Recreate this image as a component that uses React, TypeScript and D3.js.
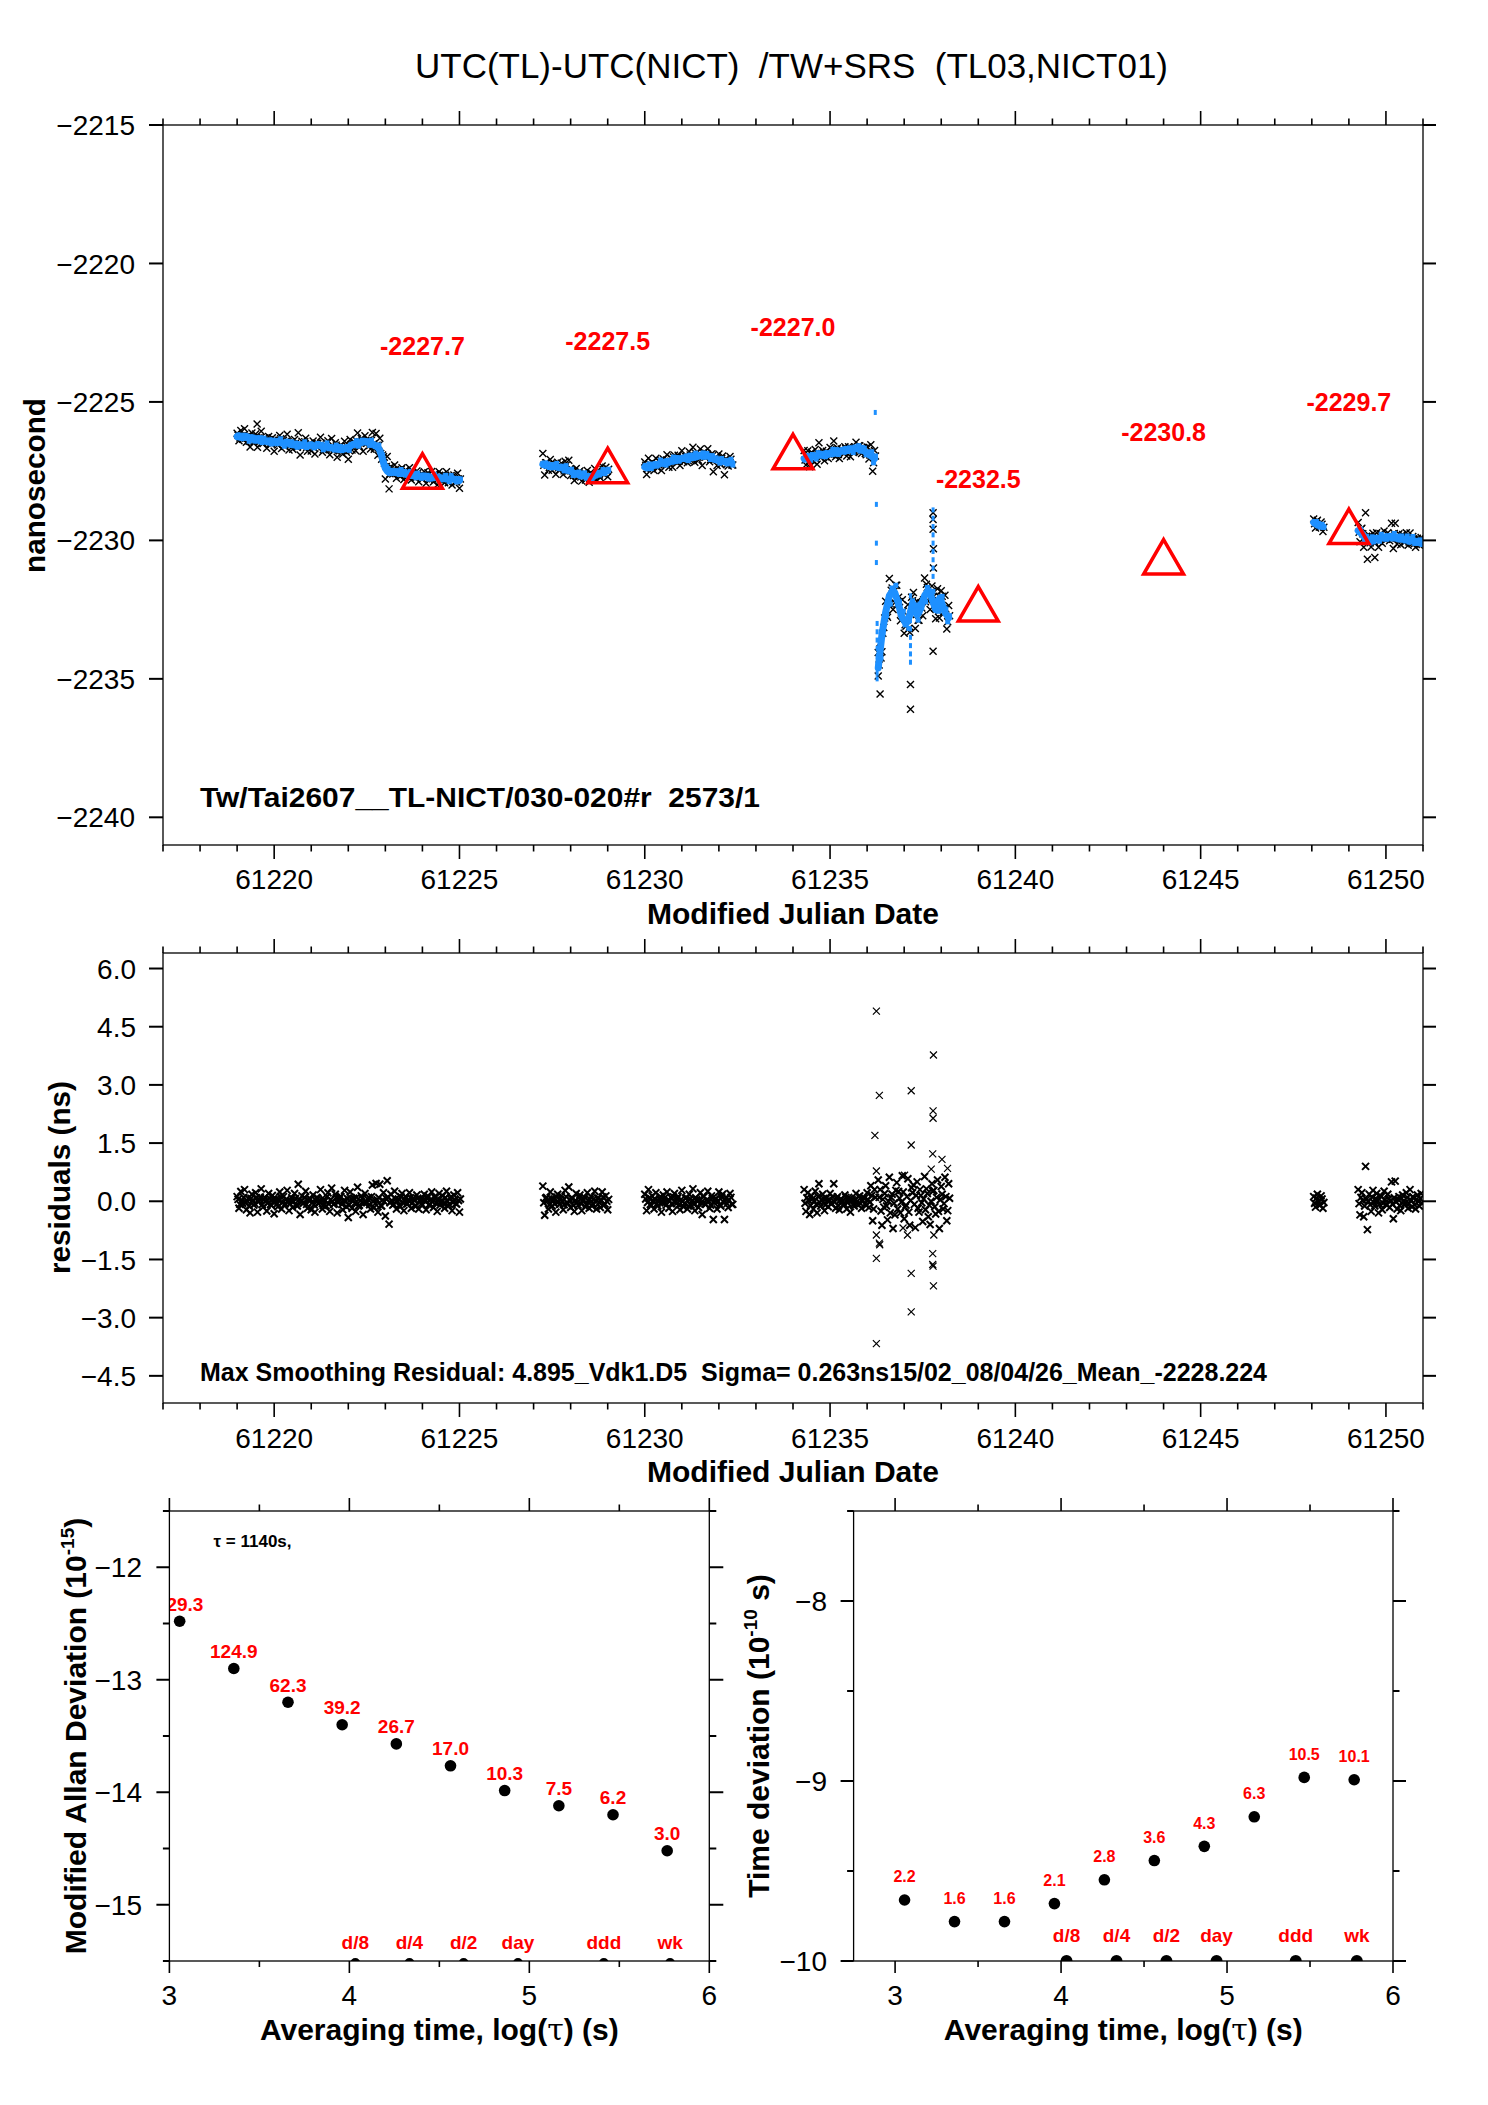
import React from 'react';
import * as d3 from 'd3';

const FONT = "'Liberation Sans', Arial, Helvetica, sans-serif";

// ---------------- data ----------------
const TITLE = 'UTC(TL)-UTC(NICT)  /TW+SRS  (TL03,NICT01)';
const TOP_NOTE = 'Tw/Tai2607__TL-NICT/030-020#r  2573/1';
const MID_NOTE = 'Max Smoothing Residual: 4.895_Vdk1.D5  Sigma= 0.263ns15/02_08/04/26_Mean_-2228.224';

const MJD_STEP = 0.05;
const SEG_START = [61219.0, 61227.25, 61230.0, 61234.3, 61236.3, 61248.05, 61249.25];

const SMOOTH_A = [
  -2226.25, -2226.22, -2226.28, -2226.30, -2226.27, -2226.24, -2226.30, -2226.33, -2226.30, -2226.35, -2226.38,
  -2226.36, -2226.40, -2226.38, -2226.35, -2226.40, -2226.42, -2226.45, -2226.41, -2226.44, -2226.46,
  -2226.44, -2226.42, -2226.45, -2226.48, -2226.50, -2226.47, -2226.45, -2226.50, -2226.53, -2226.55,
  -2226.56, -2226.52, -2226.55, -2226.58, -2226.56, -2226.54, -2226.57, -2226.60, -2226.58, -2226.55,
  -2226.57, -2226.60, -2226.58, -2226.55, -2226.58, -2226.62, -2226.64, -2226.60, -2226.62, -2226.65,
  -2226.66, -2226.68, -2226.65, -2226.70, -2226.72, -2226.68, -2226.66, -2226.70, -2226.68, -2226.65,
  -2226.60, -2226.56, -2226.52, -2226.50, -2226.48, -2226.50, -2226.46, -2226.44, -2226.42, -2226.45,
  -2226.48, -2226.50, -2226.52, -2226.55, -2226.60, -2226.65, -2226.75, -2226.95, -2227.20, -2227.40,
  -2227.50, -2227.55, -2227.52, -2227.50, -2227.54, -2227.56, -2227.52, -2227.55, -2227.58, -2227.56,
  -2227.58, -2227.62, -2227.60, -2227.64, -2227.66, -2227.62, -2227.65, -2227.68, -2227.70, -2227.68,
  -2227.70, -2227.72, -2227.70, -2227.73, -2227.75, -2227.72, -2227.70, -2227.74, -2227.72, -2227.75,
  -2227.76, -2227.74, -2227.78, -2227.80, -2227.78, -2227.76, -2227.80, -2227.82, -2227.80, -2227.84,
];
const SMOOTH_B = [
  -2227.25, -2227.28, -2227.30, -2227.27, -2227.32, -2227.35, -2227.30, -2227.33, -2227.36, -2227.38,
  -2227.35, -2227.40, -2227.42, -2227.45, -2227.48, -2227.50, -2227.55, -2227.58, -2227.60, -2227.62,
  -2227.65, -2227.62, -2227.66, -2227.68, -2227.70, -2227.72, -2227.68, -2227.70, -2227.66, -2227.62,
  -2227.60, -2227.58, -2227.55, -2227.52, -2227.50, -2227.48,
];
const SMOOTH_C = [
  -2227.35, -2227.38, -2227.33, -2227.30, -2227.32, -2227.28, -2227.25, -2227.27, -2227.22, -2227.20,
  -2227.22, -2227.18, -2227.15, -2227.18, -2227.12, -2227.10, -2227.13, -2227.08, -2227.05, -2227.08,
  -2227.04, -2227.02, -2227.05, -2227.00, -2226.98, -2227.02, -2226.96, -2226.94, -2226.98, -2226.95,
  -2226.92, -2226.96, -2226.93, -2226.90, -2226.95, -2226.98, -2227.02, -2227.05, -2227.08, -2227.10,
  -2227.12, -2227.15, -2227.13, -2227.16, -2227.18, -2227.15, -2227.17, -2227.20,
];
const SMOOTH_D = [
  -2227.05, -2227.02, -2226.98, -2227.00, -2226.96, -2226.94, -2226.98, -2226.95, -2226.92, -2226.90,
  -2226.93, -2226.88, -2226.86, -2226.90, -2226.85, -2226.82, -2226.86, -2226.80, -2226.78, -2226.82,
  -2226.76, -2226.74, -2226.78, -2226.75, -2226.72, -2226.70, -2226.74, -2226.68, -2226.66, -2226.70,
  -2226.72, -2226.68, -2226.75, -2226.80, -2226.85, -2226.90, -2226.95, -2227.00, -2227.05,
];
const SMOOTH_E = [
  -2234.6, -2234.0, -2233.4, -2233.0, -2232.6, -2232.3, -2232.0, -2231.9, -2231.8, -2231.9,
  -2232.1, -2232.3, -2232.6, -2232.8, -2232.9, -2233.0, -2232.9, -2232.7, -2232.4, -2232.3,
  -2232.5, -2232.7, -2232.6, -2232.4, -2232.2, -2232.0, -2231.9, -2231.8, -2231.9, -2232.1,
  -2232.3, -2232.5, -2232.3, -2232.1, -2232.2, -2232.4, -2232.6, -2232.7, -2232.8,
];
const SMOOTH_F = [-2229.35, -2229.40, -2229.45, -2229.42, -2229.48, -2229.50];
const SMOOTH_G = [
  -2229.65, -2229.70, -2229.78, -2229.85, -2229.90, -2229.95, -2230.00, -2229.98, -2230.02, -2229.96,
  -2229.92, -2229.95, -2229.90, -2229.88, -2229.92, -2229.86, -2229.90, -2229.85, -2229.88, -2229.84,
  -2229.90, -2229.93, -2229.88, -2229.92, -2229.95, -2229.98, -2229.94, -2230.00, -2230.03, -2229.98,
  -2230.02, -2230.05, -2230.08, -2230.05, -2230.10,
];

// residuals, first sample of each step
const RESID_A = [
  0.12, -0.18, 0.25, -0.05, 0.30, -0.22, 0.08, -0.30, 0.18, -0.10, 0.22,
  -0.28, 0.05, 0.32, -0.15, 0.10, -0.25, 0.20, -0.08, 0.15, -0.32,
  0.06, -0.14, 0.24, -0.20, 0.12, -0.06, 0.28, -0.24, 0.02, -0.16,
  0.20, -0.10, 0.44, -0.34, 0.14, -0.04, 0.26, -0.18, 0.08, -0.22,
  0.16, -0.28, 0.10, -0.06, 0.30, -0.20, 0.04, -0.12, 0.22, -0.26,
  0.34, -0.08, 0.18, -0.30, 0.06, 0.12, -0.22, 0.28, -0.14, -0.42,
  0.24, -0.18, 0.08, -0.26, 0.36, -0.10, 0.14, -0.34, 0.20, -0.04,
  0.10, -0.20, 0.42, -0.16, 0.46, -0.28, 0.44, -0.12, 0.22, -0.38,
  0.53, -0.59, 0.18, -0.10, 0.26, -0.20, 0.06, -0.14, 0.20, -0.24,
  0.12, -0.06, 0.22, -0.18, 0.08, -0.12, 0.16, -0.20, 0.04, -0.10,
  0.18, -0.22, 0.14, -0.08, 0.24, -0.16, 0.10, -0.26, 0.20, -0.04,
  0.14, -0.18, 0.26, -0.12, 0.08, -0.24, 0.16, -0.06, 0.22, -0.28,
];
const RESID_B = [
  0.39, -0.36, 0.10, -0.20, 0.24, -0.12, 0.06, -0.28, 0.18, -0.08,
  0.14, -0.22, 0.28, -0.04, 0.37, -0.16, 0.08, -0.26, 0.20, -0.10,
  0.16, -0.24, 0.04, -0.14, 0.22, -0.18, 0.12, -0.06, 0.26, -0.20,
  0.08, -0.16, 0.24, -0.10, 0.14, -0.22,
];
const RESID_C = [
  0.18, -0.24, 0.30, -0.08, 0.14, -0.20, 0.22, -0.12, 0.06, -0.28,
  0.16, -0.04, 0.24, -0.18, 0.10, -0.26, 0.20, -0.06, 0.12, -0.22,
  0.28, -0.14, 0.08, -0.20, 0.18, -0.10, 0.32, -0.24, 0.04, -0.16,
  0.22, -0.34, 0.12, -0.08, 0.26, -0.18, 0.14, -0.47, 0.06, -0.20,
  0.24, -0.12, 0.18, -0.47, 0.10, -0.16, 0.20, -0.08,
];
const RESID_D = [
  0.30, -0.26, 0.22, -0.34, 0.14, -0.20, 0.26, -0.30, 0.45, -0.12,
  0.18, -0.24, 0.08, -0.14, 0.20, -0.06, 0.45, -0.18, 0.12, -0.22,
  0.06, -0.10, 0.16, -0.20, 0.10, -0.28, 0.04, -0.12, 0.20, -0.08,
  0.14, -0.18, 0.10, -0.06, 0.22, -0.16, 0.40, -0.50, 0.30,
];
const RESID_E = [
  0.55, 0.30, -0.62, -0.15, 0.40, -0.48, 0.62, 0.10, -0.70, -0.35,
  0.48, 0.25, -0.30, 0.66, -0.45, -0.10, 0.58, -0.62, 0.35, 0.42,
  -0.68, 0.50, -0.28, 0.15, -0.52, 0.64, 0.32, -0.40, -0.60, 0.45,
  0.28, -0.33, 0.55, -0.70, 0.38, -0.20, 0.62, -0.50, 0.45,
];
const RESID_F = [0.12, -0.15, 0.18, -0.10, 0.14, -0.18];
const RESID_G = [
  0.30, -0.35, 0.22, -0.40, 0.90, -0.73, 0.18, -0.26, 0.28, -0.12,
  0.20, -0.30, 0.14, -0.22, 0.26, -0.08, 0.18, -0.16, 0.50, -0.45,
  0.52, -0.20, 0.12, -0.24, 0.16, -0.10, 0.22, -0.18, 0.30, -0.14,
  0.08, -0.20, 0.16, -0.12, 0.20,
];

// residuals, second sample of each step (half a step later)
const RESID2_A = [
  0.05, -0.08, 0.02, 0.10, -0.04, 0.00, -0.12, 0.07, 0.03, -0.06, 0.09,
  -0.02, 0.11, -0.09, 0.04, 0.01, -0.05, 0.08, -0.11, 0.06, 0.00,
  -0.07, 0.03, 0.12, -0.03, -0.10, 0.05, 0.02, -0.06, 0.09, -0.01,
  0.07, -0.12, 0.04, 0.00, -0.05, 0.10, -0.08, 0.03, 0.06, -0.04,
  -0.09, 0.02, 0.08, -0.02, 0.05, -0.11, 0.01, 0.12, -0.07, 0.04,
  0.00, -0.06, 0.09, -0.03, 0.11, -0.08, 0.02, -0.01, 0.07, -0.10,
  0.06, 0.03, -0.05, 0.10, -0.12, 0.01, 0.08, -0.04, -0.02, 0.05,
  -0.09, 0.12, 0.00, -0.06, 0.04, 0.09, -0.11, 0.03, -0.01, 0.07,
  0.10, -0.04, 0.02, -0.08, 0.06, 0.00, -0.10, 0.11, -0.03, 0.05,
  -0.07, 0.01, 0.09, -0.05, 0.03, -0.12, 0.08, 0.02, -0.06, 0.04,
  0.00, 0.07, -0.09, 0.05, -0.02, 0.11, -0.04, 0.06, -0.10, 0.03,
  -0.05, 0.09, 0.01, -0.08, 0.12, -0.03, 0.04, -0.07, 0.02, 0.06,
];
const RESID2_B = [
  -0.04, 0.08, 0.01, -0.10, 0.06, 0.03, -0.07, 0.11, -0.02, 0.05,
  0.00, -0.09, 0.12, -0.05, 0.04, 0.07, -0.11, 0.02, -0.03, 0.09,
  -0.06, 0.01, 0.10, -0.08, 0.03, 0.05, -0.12, 0.06, -0.01, 0.08,
  -0.04, 0.02, 0.11, -0.07, 0.00, 0.05,
];
const RESID2_C = [
  0.06, -0.03, 0.09, -0.11, 0.02, 0.05, -0.07, 0.00, 0.12, -0.04,
  0.08, -0.10, 0.03, 0.01, -0.06, 0.11, -0.02, 0.07, -0.09, 0.04,
  0.00, -0.05, 0.10, -0.12, 0.06, 0.02, -0.08, 0.09, -0.01, 0.05,
  -0.03, 0.12, -0.07, 0.04, 0.01, -0.10, 0.08, -0.04, 0.06, 0.00,
  -0.09, 0.11, -0.02, 0.05, -0.06, 0.03, 0.10, -0.08,
];
const RESID2_D = [
  -0.05, 0.09, 0.02, -0.11, 0.06, 0.00, -0.08, 0.12, -0.03, 0.04,
  0.07, -0.10, 0.01, 0.05, -0.06, 0.11, -0.02, 0.08, -0.12, 0.03,
  0.00, -0.07, 0.10, -0.04, 0.06, 0.02, -0.09, 0.05, -0.01, 0.12,
  -0.06, 0.03, 0.08, -0.11, 0.04, -0.02, 0.15, -0.20, 0.10,
];
const RESID2_E = [
  0.10, -0.25, 0.05, 0.20, -0.12, 0.00, -0.30, 0.18, -0.05, 0.28,
  -0.20, 0.08, -0.02, 0.24, -0.15, 0.12, -0.28, 0.02, 0.22, -0.08,
  0.15, -0.18, 0.30, -0.04, 0.06, -0.22, 0.20, -0.10, 0.00, 0.26,
  -0.14, 0.10, -0.26, 0.04, 0.18, -0.06, 0.12, -0.24, 0.08,
];
const RESID2_F = [-0.05, 0.08, 0.00, -0.10, 0.06, -0.03];
const RESID2_G = [
  -0.06, 0.10, 0.02, -0.12, 0.05, 0.00, -0.09, 0.11, -0.03, 0.07,
  0.01, -0.08, 0.12, -0.05, 0.04, -0.10, 0.06, 0.02, -0.07, 0.09,
  -0.02, 0.05, -0.11, 0.08, 0.00, -0.04, 0.10, -0.06, 0.03, 0.12,
  -0.09, 0.05, -0.01, 0.07, -0.05,
];

const SMOOTH = [SMOOTH_A, SMOOTH_B, SMOOTH_C, SMOOTH_D, SMOOTH_E, SMOOTH_F, SMOOTH_G];
const RESID = [RESID_A, RESID_B, RESID_C, RESID_D, RESID_E, RESID_F, RESID_G];
const RESID2 = [RESID2_A, RESID2_B, RESID2_C, RESID2_D, RESID2_E, RESID2_F, RESID2_G];

// isolated blue points (vertical dotted runs)
const SPIKE_MJD = [
  61236.22, 61236.25, 61236.25, 61236.25,
  61236.27, 61236.27, 61236.27, 61236.27, 61236.27, 61236.27, 61236.27, 61236.27,
  61237.17, 61237.17, 61237.17, 61237.17, 61237.17, 61237.17, 61237.17, 61237.17, 61237.17,
  61237.78, 61237.78, 61237.78, 61237.78, 61237.78, 61237.78, 61237.78, 61237.78, 61237.78,
];
const SPIKE_VAL = [
  -2225.38, -2228.7, -2230.1, -2230.8,
  -2233.0, -2233.3, -2233.6, -2233.9, -2234.2, -2234.5, -2234.8, -2235.0,
  -2232.0, -2232.3, -2232.6, -2232.9, -2233.2, -2233.5, -2233.8, -2234.1, -2234.4,
  -2228.9, -2229.2, -2229.5, -2229.8, -2230.1, -2230.4, -2230.7, -2231.0, -2231.3,
];

// isolated raw points in the top panel
const TOP_OUT_MJD = [61236.30, 61236.35, 61237.17, 61237.17, 61237.78, 61237.78, 61237.78, 61237.79, 61237.79, 61237.78, 61249.70, 61219.54];
const TOP_OUT_VAL = [-2234.9, -2235.55, -2235.2, -2236.1, -2229.0, -2229.25, -2229.6, -2230.3, -2231.0, -2234.0, -2230.62, -2225.8];

// isolated residuals in the middle panel
const RES_OUT_MJD = [
  61236.25, 61237.79, 61236.33, 61237.19, 61237.78, 61237.78, 61236.21, 61237.19, 61237.77, 61238.02,
  61236.25, 61238.17, 61237.73, 61237.01, 61236.25, 61236.33, 61236.34, 61236.25, 61237.09, 61236.97,
  61237.19, 61237.19, 61236.25, 61237.77, 61237.77, 61237.78, 61237.79, 61237.80,
];
const RES_OUT_VAL = [
  4.90, 3.77, 2.73, 2.85, 2.33, 2.14, 1.70, 1.45, 1.22, 1.08,
  0.78, 0.85, 0.83, 0.67, -0.87, -1.08, -1.12, -1.47, -0.87, -0.69,
  -1.86, -2.85, -3.67, -1.35, -1.63, -1.67, -2.18, -0.87,
];

// daily triangles
const TRI_MJD = [61224, 61229, 61234, 61239, 61244, 61249];
const TRI_VAL = [-2227.7, -2227.5, -2227.0, -2232.5, -2230.8, -2229.7];
const TRI_TEXT = ['-2227.7', '-2227.5', '-2227.0', '-2232.5', '-2230.8', '-2229.7'];

// axes
const MJD_DOMAIN = [61217, 61251];
const MJD_LABELS = [61220, 61225, 61230, 61235, 61240, 61245, 61250];
const TOP_Y_DOMAIN = [-2241, -2215];
const TOP_Y_TICKS = [-2215, -2220, -2225, -2230, -2235, -2240];
const MID_Y_DOMAIN = [-5.2, 6.4];
const MID_Y_TICKS = [6.0, 4.5, 3.0, 1.5, 0.0, -1.5, -3.0, -4.5];

// stability
const LOG_TAU = [3.057, 3.358, 3.659, 3.960, 4.261, 4.562, 4.863, 5.164, 5.465, 5.766];
const MDEV_LOG = [-12.48, -12.90, -13.20, -13.40, -13.57, -13.765, -13.985, -14.12, -14.20, -14.52];
const MDEV_TEXT = ['129.3', '124.9', '62.3', '39.2', '26.7', '17.0', '10.3', '7.5', '6.2', '3.0'];
const TDEV_LOG = [-9.661, -9.781, -9.781, -9.681, -9.549, -9.442, -9.363, -9.199, -8.980, -8.993];
const TDEV_TEXT = ['2.2', '1.6', '1.6', '2.1', '2.8', '3.6', '4.3', '6.3', '10.5', '10.1'];
const MARK_LOG = [4.033, 4.334, 4.635, 4.937, 5.414, 5.782];
const MARK_TEXT = ['d/8', 'd/4', 'd/2', 'day', 'ddd', 'wk'];
const LOG_X_MAJOR = [3, 4, 5, 6];
const LOG_X_MINOR = [3.5, 4.5, 5.5];
const MDEV_DOMAIN = [-15.5, -11.5];
const MDEV_MAJOR = [-12, -13, -14, -15];
const MDEV_MINOR = [-11.5, -12.5, -13.5, -14.5, -15.5];
const TDEV_DOMAIN = [-10, -7.5];
const TDEV_MAJOR = [-8, -9, -10];
const TDEV_MINOR = [-7.5, -8.5, -9.5];
const LOGX_L_DOMAIN = [3, 6];
const LOGX_R_DOMAIN = [2.75, 6];

// ---------------- drawing ----------------
const BLUE = '#1e90ff';
const RED = '#ff0000';
const xPath = (s: number) => `M${-s},${-s}L${s},${s}M${-s},${s}L${s},${-s}`;
const fmtNeg = (d: number, digits = 0) => (d < 0 ? '\u2212' : '') + Math.abs(d).toFixed(digits);

type Box = { x0: number; x1: number; y0: number; y1: number };

function Frame({ b }: { b: Box }) {
  return <rect x={b.x0} y={b.y0} width={b.x1 - b.x0} height={b.y1 - b.y0} fill="none" stroke="#000" strokeWidth={1.3} />;
}

function MjdTicks({ x, b }: { x: d3.ScaleLinear<number, number>; b: Box }) {
  const days = d3.range(MJD_DOMAIN[0], MJD_DOMAIN[1] + 1);
  return (
    <g stroke="#000" strokeWidth={1.6}>
      {days.map((d) => {
        const L = d % 5 === 0 ? 14 : 6.5;
        const px = x(d);
        return (
          <g key={d}>
            <line x1={px} x2={px} y1={b.y0} y2={b.y0 - L} />
            <line x1={px} x2={px} y1={b.y1} y2={b.y1 + L} />
          </g>
        );
      })}
    </g>
  );
}

function YTicksBoth({ y, b, major, minor, lenL, lenR }: any) {
  const all = [...major.map((v: number) => [v, true]), ...minor.map((v: number) => [v, false])];
  return (
    <g stroke="#000" strokeWidth={2}>
      {all.map(([v, isMaj]: any, i: number) => (
        <g key={i}>
          <line x1={b.x0} x2={b.x0 - (isMaj ? lenL : lenL / 2)} y1={y(v)} y2={y(v)} />
          <line x1={b.x1} x2={b.x1 + (isMaj ? lenR : lenR / 2)} y1={y(v)} y2={y(v)} />
        </g>
      ))}
    </g>
  );
}

function LogXTicks({ x, b }: any) {
  const all = [...LOG_X_MAJOR.map((v) => [v, true]), ...LOG_X_MINOR.map((v) => [v, false])];
  return (
    <g stroke="#000" strokeWidth={1.6}>
      {all.map(([v, isMaj]: any, i: number) => (
        <g key={i}>
          <line x1={x(v)} x2={x(v)} y1={b.y0} y2={b.y0 - (isMaj ? 13 : 6.5)} />
          <line x1={x(v)} x2={x(v)} y1={b.y1} y2={b.y1 + (isMaj ? 12 : 6)} />
        </g>
      ))}
    </g>
  );
}

export default function App() {
  const bT: Box = { x0: 163, x1: 1423, y0: 125, y1: 845 };
  const bM: Box = { x0: 163, x1: 1423, y0: 953, y1: 1403 };
  const bL: Box = { x0: 169.4, x1: 709.3, y0: 1511, y1: 1961 };
  const bR: Box = { x0: 853.6, x1: 1393, y0: 1511, y1: 1961 };

  const xT = d3.scaleLinear().domain(MJD_DOMAIN).range([bT.x0, bT.x1]);
  const yT = d3.scaleLinear().domain(TOP_Y_DOMAIN).range([bT.y1, bT.y0]);
  const yM = d3.scaleLinear().domain(MID_Y_DOMAIN).range([bM.y1, bM.y0]);
  const xL = d3.scaleLinear().domain(LOGX_L_DOMAIN).range([bL.x0, bL.x1]);
  const yL = d3.scaleLinear().domain(MDEV_DOMAIN).range([bL.y1, bL.y0]);
  const xR = d3.scaleLinear().domain(LOGX_R_DOMAIN).range([bR.x0, bR.x1]);
  const yR = d3.scaleLinear().domain(TDEV_DOMAIN).range([bR.y1, bR.y0]);

  const segs = SEG_START.map((s, k) =>
    SMOOTH[k].map((v, i) => ({ t: s + i * MJD_STEP, v }))
  );
  // raw samples: two per smoothing step
  const raw1 = SEG_START.flatMap((s, k) =>
    SMOOTH[k].map((v, i) => ({ t: s + i * MJD_STEP, v, r: RESID[k][i] ?? 0 }))
  );
  const raw2 = SEG_START.flatMap((s, k) =>
    SMOOTH[k].map((v, i) => ({ t: s + (i + 0.5) * MJD_STEP, v, r: RESID2[k][i] ?? 0 }))
  );
  const raw = [...raw1, ...raw2];
  const line = d3
    .line<{ t: number; v: number }>()
    .x((d) => xT(d.t))
    .y((d) => yT(d.v));

  const bold = { fontFamily: FONT, fontWeight: 700 } as const;
  const reg = { fontFamily: FONT } as const;

  return (
    <svg
      width={1488}
      height={2105}
      viewBox="0 0 1488 2105"
      style={{ position: 'absolute', left: 0, top: 0, background: '#fff' }}
    >
      <defs>
        <clipPath id="cT"><rect x={bT.x0} y={bT.y0} width={bT.x1 - bT.x0} height={bT.y1 - bT.y0} /></clipPath>
        <clipPath id="cM"><rect x={bM.x0} y={bM.y0} width={bM.x1 - bM.x0} height={bM.y1 - bM.y0} /></clipPath>
        <clipPath id="cL"><rect x={bL.x0} y={bL.y0} width={bL.x1 - bL.x0} height={bL.y1 - bL.y0} /></clipPath>
        <clipPath id="cR"><rect x={bR.x0} y={bR.y0} width={bR.x1 - bR.x0} height={bR.y1 - bR.y0} /></clipPath>
      </defs>
      <rect x={0} y={0} width={1488} height={2105} fill="#fff" />

      {/* title */}
      <text x={791.5} y={78} textAnchor="middle" fontSize={35} textLength={753} lengthAdjust="spacingAndGlyphs" style={{ ...reg, whiteSpace: 'pre' }}>
        {TITLE}
      </text>

      {/* ===== top panel ===== */}
      <g clipPath="url(#cT)">
        <g stroke="#000" strokeWidth={1.4} fill="none">
          {raw.map((d, i) => (
            <path key={i} d={xPath(3.5)} transform={`translate(${xT(d.t)},${yT(d.v + d.r)})`} />
          ))}
          {TOP_OUT_MJD.map((t, i) => (
            <path key={'o' + i} d={xPath(3.5)} transform={`translate(${xT(t)},${yT(TOP_OUT_VAL[i])})`} />
          ))}
        </g>
        {segs.map((s, k) => (
          <path key={k} d={line(s) || ''} fill="none" stroke={BLUE} strokeWidth={7} strokeLinejoin="round" strokeLinecap="round" />
        ))}
        {raw2.map((d, i) => (
          <rect key={'b' + i} x={xT(d.t) - 2.5} y={yT(d.v + d.r) - 2.5} width={5} height={5} fill={BLUE} />
        ))}
        {SPIKE_MJD.map((t, i) => (
          <rect key={i} x={xT(t) - 1.5} y={yT(SPIKE_VAL[i]) - 2.5} width={3} height={5} fill={BLUE} />
        ))}
        {TRI_MJD.map((t, i) => {
          const cx = xT(t);
          const cy = yT(TRI_VAL[i]);
          const r = 23;
          const pts = [
            [cx, cy - r],
            [cx + r * 0.866, cy + r / 2],
            [cx - r * 0.866, cy + r / 2],
          ];
          return <polygon key={i} points={pts.map((p) => p.join(',')).join(' ')} fill="none" stroke={RED} strokeWidth={3.5} />;
        })}
      </g>
      {TRI_MJD.map((t, i) => (
        <text key={i} x={xT(t)} y={yT(TRI_VAL[i] + 4.38)} textAnchor="middle" fontSize={25} fill={RED} style={bold}>
          {TRI_TEXT[i]}
        </text>
      ))}
      <text x={200} y={806.7} fontSize={28} textLength={560} lengthAdjust="spacingAndGlyphs" style={{ ...bold, whiteSpace: 'pre' }}>
        {TOP_NOTE}
      </text>
      <Frame b={bT} />
      <MjdTicks x={xT} b={bT} />
      <YTicksBoth y={yT} b={bT} major={TOP_Y_TICKS} minor={[]} lenL={14} lenR={13} />
      {TOP_Y_TICKS.map((v) => (
        <text key={v} x={135} y={yT(v)} dy="0.36em" textAnchor="end" fontSize={28} style={reg}>
          {fmtNeg(v)}
        </text>
      ))}
      {MJD_LABELS.map((d) => (
        <text key={d} x={xT(d)} y={889} textAnchor="middle" fontSize={28} style={reg}>
          {d}
        </text>
      ))}
      <text x={(bT.x0 + bT.x1) / 2} y={924} textAnchor="middle" fontSize={30} textLength={292} lengthAdjust="spacingAndGlyphs" style={bold}>
        Modified Julian Date
      </text>
      <text transform={`translate(45,${(398 + 573) / 2}) rotate(-90)`} textAnchor="middle" fontSize={30} textLength={175} lengthAdjust="spacingAndGlyphs" style={bold}>
        nanosecond
      </text>

      {/* ===== middle panel ===== */}
      <g clipPath="url(#cM)">
        <g stroke="#000" strokeWidth={2} fill="none">
          {raw.map((d, i) => (
            <path key={i} d={xPath(3.5)} transform={`translate(${xT(d.t)},${yM(d.r)})`} />
          ))}
        </g>
        <g stroke="#000" strokeWidth={1.2} fill="none">
          {RES_OUT_MJD.map((t, i) => (
            <path key={'o' + i} d={xPath(3.5)} transform={`translate(${xT(t)},${yM(RES_OUT_VAL[i])})`} />
          ))}
        </g>
      </g>
      <text x={200} y={1381} fontSize={25} textLength={1067} lengthAdjust="spacingAndGlyphs" style={{ ...bold, whiteSpace: 'pre' }}>
        {MID_NOTE}
      </text>
      <Frame b={bM} />
      <MjdTicks x={xT} b={bM} />
      <YTicksBoth y={yM} b={bM} major={MID_Y_TICKS} minor={[]} lenL={14} lenR={13} />
      {MID_Y_TICKS.map((v) => (
        <text key={v} x={136} y={yM(v)} dy="0.36em" textAnchor="end" fontSize={28} style={reg}>
          {fmtNeg(v, 1)}
        </text>
      ))}
      {MJD_LABELS.map((d) => (
        <text key={d} x={xT(d)} y={1448} textAnchor="middle" fontSize={28} style={reg}>
          {d}
        </text>
      ))}
      <text x={(bM.x0 + bM.x1) / 2} y={1482} textAnchor="middle" fontSize={30} textLength={292} lengthAdjust="spacingAndGlyphs" style={bold}>
        Modified Julian Date
      </text>
      <text transform={`translate(70,1177.5) rotate(-90)`} textAnchor="middle" fontSize={30} textLength={193} lengthAdjust="spacingAndGlyphs" style={bold}>
        residuals (ns)
      </text>

      {/* ===== bottom left: MDEV ===== */}
      <g clipPath="url(#cL)">
        {LOG_TAU.map((t, i) => (
          <circle key={i} cx={xL(t)} cy={yL(MDEV_LOG[i])} r={5.8} fill="#000" />
        ))}
        {LOG_TAU.map((t, i) => (
          <text key={'t' + i} x={xL(t)} y={yL(MDEV_LOG[i]) - 10.5} textAnchor="middle" fontSize={19} fill={RED} style={bold}>
            {MDEV_TEXT[i]}
          </text>
        ))}
        {MARK_LOG.map((t, i) => (
          <circle key={'m' + i} cx={xL(t)} cy={bL.y1 + 2} r={5} fill="#000" />
        ))}
      </g>
      {MARK_LOG.map((t, i) => (
        <text key={i} x={xL(t)} y={1949} textAnchor="middle" fontSize={19} fill={RED} style={bold}>
          {MARK_TEXT[i]}
        </text>
      ))}
      <text x={213.5} y={1547} fontSize={17} style={bold}>
        {'\u03c4 = 1140s,'}
      </text>
      <Frame b={bL} />
      <LogXTicks x={xL} b={bL} />
      <YTicksBoth y={yL} b={bL} major={MDEV_MAJOR} minor={MDEV_MINOR} lenL={13} lenR={14} />
      {MDEV_MAJOR.map((v) => (
        <text key={v} x={142} y={yL(v)} dy="0.36em" textAnchor="end" fontSize={28} style={reg}>
          {fmtNeg(v)}
        </text>
      ))}
      {LOG_X_MAJOR.map((v) => (
        <text key={v} x={xL(v)} y={2005} textAnchor="middle" fontSize={28} style={reg}>
          {v}
        </text>
      ))}
      <text x={(bL.x0 + bL.x1) / 2} y={2040} textAnchor="middle" fontSize={30} style={bold}>
        Averaging time, log(<tspan style={{ fontWeight: 400, fontFamily: "'DejaVu Serif', serif" }}>{'\u03c4'}</tspan>) (s)
      </text>
      <text transform={`translate(86,1736) rotate(-90)`} textAnchor="middle" fontSize={30} style={bold}>
        Modified Allan Deviation (10<tspan fontSize={19} dy={-12}>-15</tspan><tspan dy={12}>)</tspan>
      </text>

      {/* ===== bottom right: TDEV ===== */}
      <g clipPath="url(#cR)">
        {LOG_TAU.map((t, i) => (
          <circle key={i} cx={xR(t)} cy={yR(TDEV_LOG[i])} r={5.8} fill="#000" />
        ))}
        {MARK_LOG.map((t, i) => (
          <circle key={'m' + i} cx={xR(t)} cy={bR.y1} r={6} fill="#000" />
        ))}
      </g>
      {LOG_TAU.map((t, i) => (
        <text key={i} x={xR(t)} y={yR(TDEV_LOG[i]) - 17.5} textAnchor="middle" fontSize={16} fill={RED} style={bold}>
          {TDEV_TEXT[i]}
        </text>
      ))}
      {MARK_LOG.map((t, i) => (
        <text key={'m' + i} x={xR(t)} y={1942} textAnchor="middle" fontSize={19} fill={RED} style={bold}>
          {MARK_TEXT[i]}
        </text>
      ))}
      <Frame b={bR} />
      <LogXTicks x={xR} b={bR} />
      <YTicksBoth y={yR} b={bR} major={TDEV_MAJOR} minor={TDEV_MINOR} lenL={13} lenR={13} />
      {TDEV_MAJOR.map((v) => (
        <text key={v} x={827} y={yR(v)} dy="0.36em" textAnchor="end" fontSize={28} style={reg}>
          {fmtNeg(v)}
        </text>
      ))}
      {LOG_X_MAJOR.map((v) => (
        <text key={v} x={xR(v)} y={2005} textAnchor="middle" fontSize={28} style={reg}>
          {v}
        </text>
      ))}
      <text x={(bR.x0 + bR.x1) / 2} y={2040} textAnchor="middle" fontSize={30} style={bold}>
        Averaging time, log(<tspan style={{ fontWeight: 400, fontFamily: "'DejaVu Serif', serif" }}>{'\u03c4'}</tspan>) (s)
      </text>
      <text transform={`translate(769,1736) rotate(-90)`} textAnchor="middle" fontSize={30} style={bold}>
        Time deviation (10<tspan fontSize={19} dy={-12}>-10</tspan><tspan dy={12}> s)</tspan>
      </text>
    </svg>
  );
}
